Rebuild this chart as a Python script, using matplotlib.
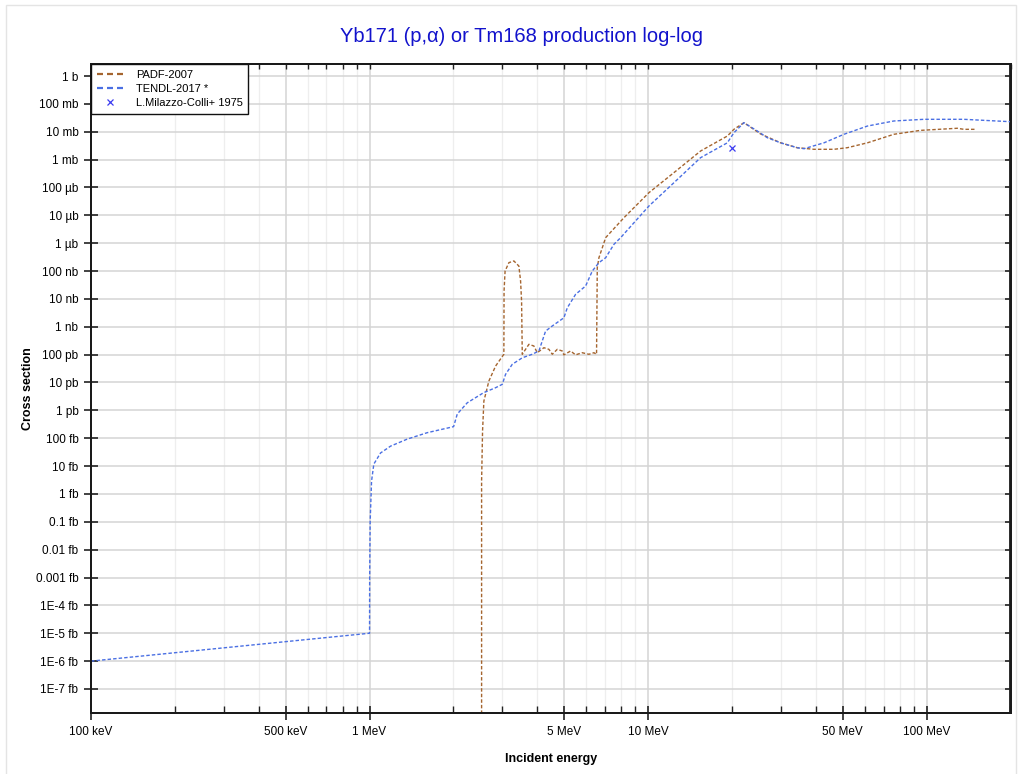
import matplotlib
matplotlib.use("Agg")
import matplotlib.pyplot as plt
from matplotlib.ticker import FixedLocator, NullFormatter
from matplotlib.patches import Rectangle

plt.rcParams['font.family'] = ['Liberation Sans', 'DejaVu Sans']

# PADF-2007 (energy in MeV, cross section in barn)
padf_e = [2.525, 2.525, 2.545, 2.573, 2.682, 2.835, 3.035, 3.04, 3.066, 3.164, 3.298,
          3.436, 3.485, 3.514, 3.534, 3.733, 3.89, 4.0, 4.225, 4.404, 4.53, 4.72,
          4.92, 4.985, 5.27, 5.49, 5.80, 6.13, 6.39, 6.53, 6.57, 6.66, 6.85, 7.04,
          8.19, 10.07, 12.38, 15.43, 19.25, 20.33, 22.08, 25.35, 29.9, 34.3, 39.4,
          46.5, 51.9, 61.3, 76.3, 95.1, 128.8, 136.0, 150.0]
padf_xs = [1e-30, 2.9e-15, 1.8e-13, 2.16e-12, 1.13e-11, 3.9e-11, 1.03e-10, 1.92e-8,
           1.0e-7, 2.0e-7, 2.3e-7, 1.51e-7, 4.4e-8, 8.4e-9, 1.03e-10, 2.34e-10,
           2.04e-10, 1.17e-10, 1.77e-10, 1.55e-10, 1.03e-10, 1.55e-10, 1.35e-10,
           9.8e-11, 1.35e-10, 9.8e-11, 1.17e-10, 1.03e-10, 1.17e-10, 1.03e-10,
           1.32e-7, 3.0e-7, 6.9e-7, 1.58e-6, 8.2e-6, 6.5e-5, 3.4e-4, 2.03e-3,
           7.0e-3, 0.0122, 0.0211, 8.3e-3, 4.0e-3, 2.67e-3, 2.34e-3, 2.34e-3,
           2.67e-3, 4.0e-3, 8.1e-3, 0.0112, 0.0133, 0.0122, 0.0122]

# TENDL-2017
tendl_e = [0.1, 1.0, 1.001, 1.005, 1.0167, 1.036, 1.095, 1.19, 1.366, 1.611, 2.003,
           2.065, 2.243, 2.567, 2.835, 2.996, 3.078, 3.254, 3.534, 3.838, 4.055,
           4.285, 4.53, 4.985, 5.128, 5.492, 5.966, 6.304, 6.659, 7.04, 7.54, 7.97,
           10.07, 12.38, 15.43, 19.25, 20.33, 22.08, 24.67, 26.79, 29.9, 34.3, 36.3,
           42.8, 50.5, 61.3, 76.3, 97.8, 136.0, 200.0]
tendl_xs = [1e-21, 1e-20, 1e-18, 1e-16, 2.9e-15, 1.18e-14, 2.95e-14, 5.2e-14, 9.3e-14,
            1.58e-13, 2.6e-13, 7.4e-13, 1.87e-12, 4.3e-12, 6.5e-12, 8.6e-12,
            1.96e-11, 4.5e-11, 7.7e-11, 1.03e-10, 1.35e-10, 7.0e-10, 1.07e-9,
            2.1e-9, 4.8e-9, 1.46e-8, 2.9e-8, 1.0e-7, 2.0e-7, 3.0e-7, 9.1e-7, 1.58e-6,
            2.16e-5, 1.48e-4, 1.17e-3, 4.0e-3, 9.2e-3, 0.0211, 0.0106, 6.1e-3, 4.0e-3,
            2.67e-3, 2.46e-3, 4.0e-3, 8.1e-3, 0.016, 0.0243, 0.0279, 0.0279, 0.0229]

# L.Milazzo-Colli+ 1975
exp_e = [20.05]
exp_xs = [2.54e-3]

x_major = [0.1, 0.5, 1, 5, 10, 50, 100]
x_labels = ['100 keV', '500 keV', '1 MeV', '5 MeV', '10 MeV', '50 MeV', '100 MeV']
y_major = [10.0 ** k for k in range(0, -23, -1)]
y_labels = ['1 b', '100 mb', '10 mb', '1 mb', '100 µb', '10 µb', '1 µb', '100 nb',
            '10 nb', '1 nb', '100 pb', '10 pb', '1 pb', '100 fb', '10 fb', '1 fb',
            '0.1 fb', '0.01 fb', '0.001 fb', '1E-4 fb', '1E-5 fb', '1E-6 fb', '1E-7 fb']

brown = '#a5652f'
blue = '#4a6fe3'
xlim = (0.1, 200)
ylim = (1.34e-23, 2.63)

fig = plt.figure(figsize=(10.2, 7.74), dpi=100)
ax = fig.add_axes([91 / 1020, 1 - 713.3 / 774, (1010.5 - 91) / 1020, (713.3 - 64.3) / 774])
fig.patches.append(Rectangle((0.006, -0.01), 0.99, 1.003, transform=fig.transFigure,
                             fill=False, edgecolor='#e4e4e4', lw=1))

ax.plot(padf_e, padf_xs, color=brown, lw=1, dashes=(2.5, 1.5), label='PADF-2007', zorder=3)
ax.plot(tendl_e, tendl_xs, color=blue, lw=1, dashes=(2.5, 1.5), label='TENDL-2017 *', zorder=4)
ax.plot(exp_e, exp_xs, 'x', color='#3b3bf0', ms=5, mew=0.9, label='L.Milazzo-Colli+ 1975', zorder=5)

minors = []
for dec in [0.1, 1, 10, 100]:
    for m in range(2, 10):
        v = dec * m
        if m != 5 and v <= 200:
            minors.append(v)

ax.set_xscale('log')
ax.set_yscale('log')
ax.set_xlim(*xlim)
ax.set_ylim(*ylim)

ax.xaxis.set_major_locator(FixedLocator(x_major))
ax.set_xticklabels(x_labels)
ax.xaxis.set_minor_locator(FixedLocator(minors))
ax.xaxis.set_minor_formatter(NullFormatter())
ax.yaxis.set_major_locator(FixedLocator(y_major))
ax.set_yticklabels(y_labels)
ax.yaxis.set_minor_locator(FixedLocator([]))

ax.tick_params(which='major', direction='inout', length=10, width=1.2, labelsize=8.5,
               color='#222222', pad=4)
ax.tick_params(which='minor', direction='in', length=5, width=1, color='#222222')
for s in ax.spines.values():
    s.set_linewidth(1.3)
    s.set_color('#1a1a1a')

# top and right ticks, inward only
axt = ax.twiny()
axt.set_xscale('log')
axt.set_xlim(*xlim)
axt.xaxis.set_major_locator(FixedLocator(x_major))
axt.xaxis.set_minor_locator(FixedLocator(minors))
axt.xaxis.set_major_formatter(NullFormatter())
axt.xaxis.set_minor_formatter(NullFormatter())
axt.tick_params(which='both', direction='in', length=3.5, width=1, color='#222222')
axr = ax.twinx()
axr.set_yscale('log')
axr.set_ylim(*ylim)
axr.yaxis.set_major_locator(FixedLocator(y_major))
axr.yaxis.set_minor_locator(FixedLocator([]))
axr.yaxis.set_major_formatter(NullFormatter())
axr.tick_params(which='both', direction='in', length=4, width=1.2, color='#222222')
for a in [axt, axr]:
    for s in a.spines.values():
        s.set_linewidth(1.3)
        s.set_color('#1a1a1a')

ax.grid(True, which='major', color='#d4d4d4', lw=1.1, zorder=0)
ax.grid(True, which='minor', axis='x', color='#eeeeee', lw=0.9, zorder=0)
ax.set_axisbelow(True)

ax.set_xlabel('Incident energy', fontsize=9, fontweight='bold', labelpad=11)
ax.set_ylabel('Cross section', fontsize=9, fontweight='bold', labelpad=1)
fig.text(0.511, 0.953, 'Yb171 (p,α) or Tm168 production log-log', ha='center', va='center',
         fontsize=14.5, color='#1212cc')

leg = axr.legend(*ax.get_legend_handles_labels(), loc='upper left', fontsize=8,
                 frameon=True, fancybox=False, framealpha=1,
                 edgecolor='#111111', borderaxespad=0, handlelength=2.5,
                 borderpad=0.5, labelspacing=0.38, handletextpad=1.05)
leg.get_frame().set_linewidth(1)
for h in leg.get_lines()[:2]:
    h.set_linewidth(1.6)
    h.set_dashes((2.7, 1.8))

fig.savefig('out.png', dpi=100)
